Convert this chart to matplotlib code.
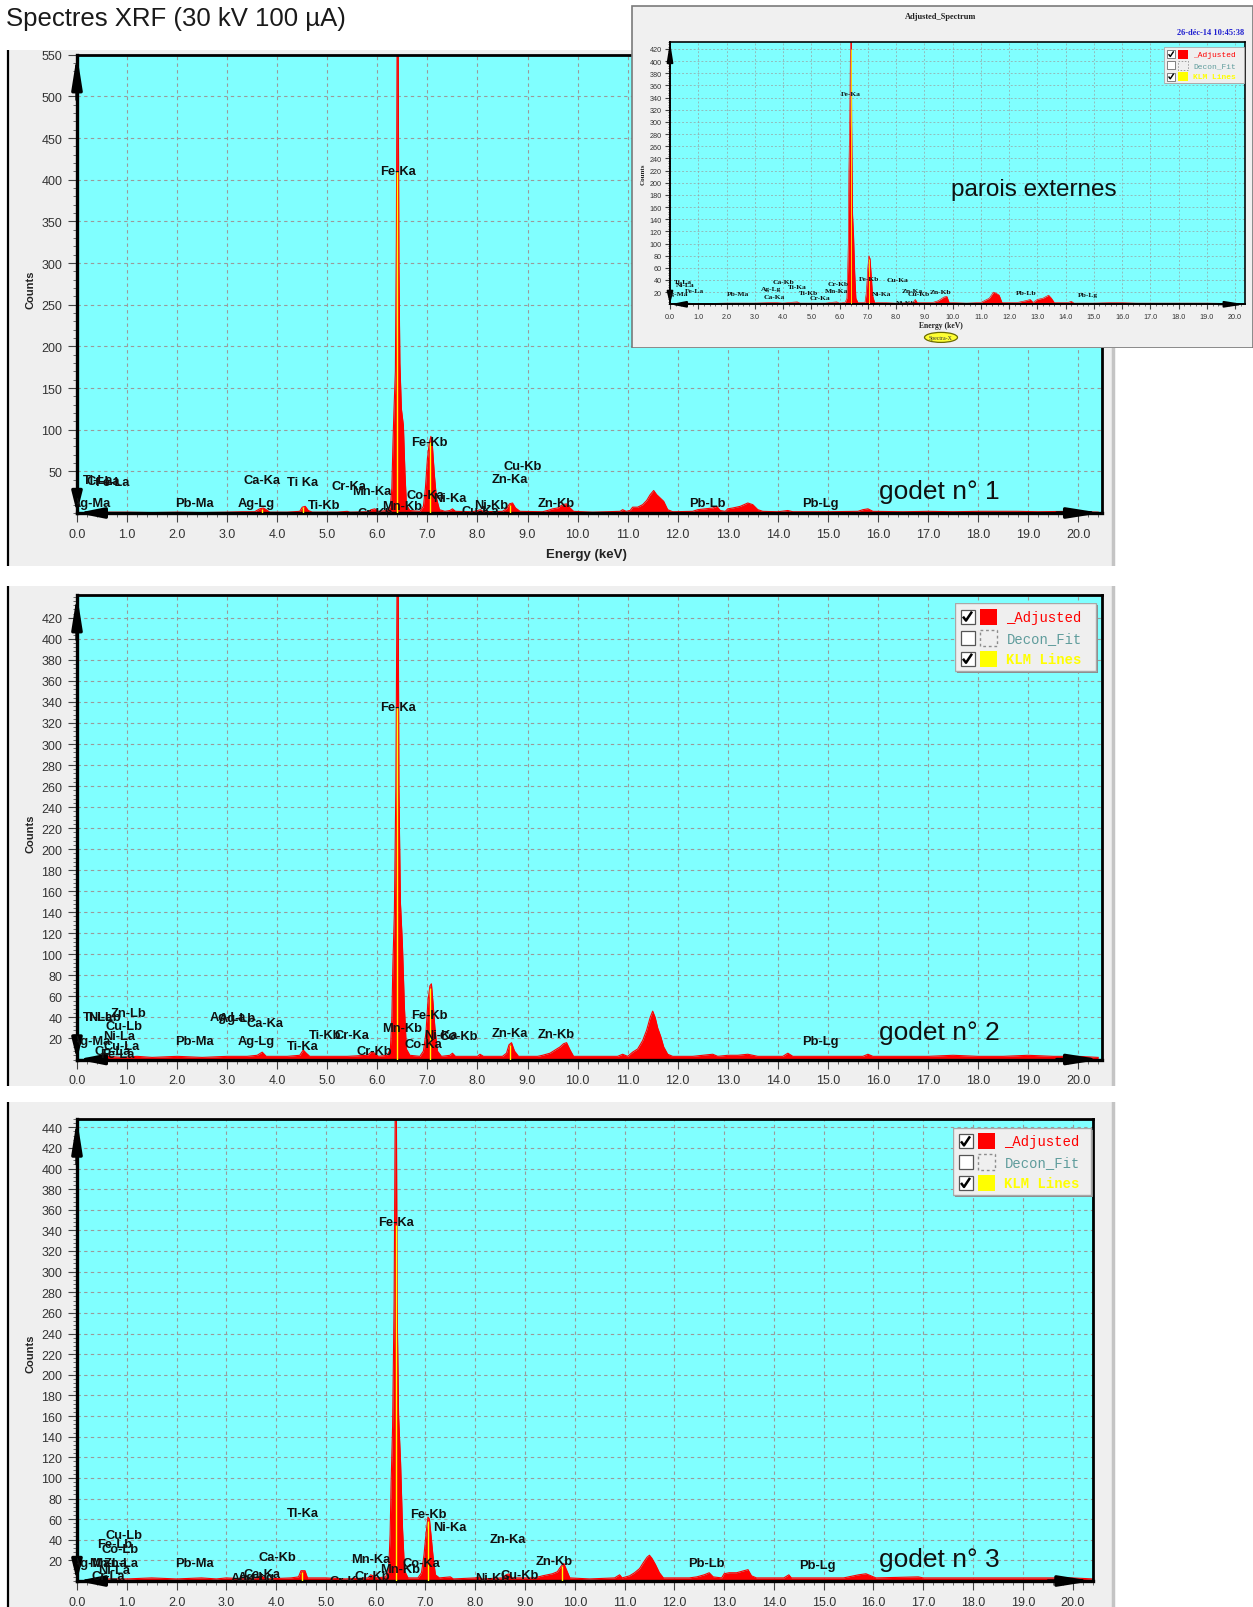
import numpy as np
import matplotlib
matplotlib.use("Agg")
import matplotlib.pyplot as plt
from matplotlib.patches import Rectangle, Ellipse
from matplotlib.ticker import MultipleLocator, FormatStrFormatter

plt.rcParams["font.family"] = ["Liberation Sans", "DejaVu Sans"]

W, H = 1253, 1608
CYAN = "#80ffff"
RED = "#ff0000"
YELLOW = "#ffff00"

# ---------------------------------------------------------------------------
# Spectra (energy keV / counts)
# ---------------------------------------------------------------------------

# godet n° 1
P1_E = [0.0, 0.5, 0.55, 1.0, 1.5, 2.0, 2.5, 3.0, 3.3, 3.55, 3.65, 3.72, 3.78, 3.85, 4.2, 4.45, 4.5, 4.56, 4.62, 4.7,
        5.2, 5.4, 5.45, 5.8, 5.88, 5.95, 6.02, 6.2, 6.26, 6.29, 6.31, 6.33, 6.36, 6.38, 6.395, 6.415, 6.43, 6.45,
        6.48, 6.52, 6.55, 6.58, 6.65, 6.85, 6.92, 6.96, 7.0, 7.04, 7.07, 7.1, 7.14, 7.18, 7.24, 7.35, 7.45, 7.5,
        7.56, 7.9, 8.0, 8.06, 8.12, 8.5, 8.58, 8.64, 8.7, 8.76, 8.85, 9.3, 9.4, 9.5, 9.6, 9.7, 9.78, 9.85, 9.92,
        10.3, 10.85, 10.9, 10.97, 11.05, 11.1, 11.2, 11.3, 11.38, 11.45, 11.52, 11.58, 11.65, 11.72, 11.8, 11.9,
        12.3, 12.4, 12.55, 12.7, 12.78, 12.85, 12.95, 13.0, 13.1, 13.25, 13.4, 13.5, 13.6, 13.7, 14.0, 14.2, 14.3,
        15.0, 15.6, 15.7, 15.8, 15.9, 16.5, 17.0, 17.5, 18.0, 18.8, 19.2, 19.8, 20.4]
P1_C = [0, 0, 1, 1, 0.5, 1, 0.5, 1, 1.5, 1.5, 5, 6, 4, 1, 1, 2, 7, 8, 3, 1,
        1, 2, 1, 1.5, 4, 5, 2, 3, 8, 30, 80, 120, 170, 330, 580, 580, 300, 180,
        125, 105, 50, 10, 3, 2, 8, 30, 65, 85, 92, 80, 45, 18, 4, 2, 3, 5,
        2, 1.5, 3, 4, 1.5, 2, 5, 11, 12, 6, 2, 1.5, 3, 5, 6, 10, 11, 6, 2,
        1, 2, 4, 2, 3, 7, 7, 10, 15, 22, 27, 22, 18, 14, 4, 1.5,
        2, 4, 5, 6, 8, 3, 2, 5, 6, 8, 12, 10, 4, 2, 1.5, 3, 1.5,
        1.5, 2, 4, 5, 2, 1.5, 2, 1.5, 2, 2, 1.5, 2, 1]

# godet n° 2
P2_E = [0.0, 0.5, 0.6, 0.9, 1.2, 1.5, 2.0, 2.5, 3.0, 3.4, 3.6, 3.7, 3.78, 4.2, 4.45, 4.52, 4.58, 4.65, 5.0, 5.4,
        5.8, 5.88, 5.95, 6.02, 6.2, 6.26, 6.29, 6.31, 6.34, 6.37, 6.395, 6.415, 6.43, 6.46, 6.5, 6.54, 6.58, 6.65,
        6.85, 6.92, 6.97, 7.01, 7.05, 7.08, 7.11, 7.15, 7.2, 7.28, 7.45, 7.5, 7.56, 8.0, 8.05, 8.12, 8.5, 8.58,
        8.63, 8.68, 8.74, 8.82, 9.2, 9.3, 9.45, 9.55, 9.65, 9.72, 9.78, 9.85, 9.92, 10.3, 10.8, 10.9, 11.0, 11.1,
        11.2, 11.3, 11.38, 11.45, 11.5, 11.55, 11.6, 11.66, 11.72, 11.8, 11.9, 12.3, 12.5, 12.7, 12.8, 13.0, 13.2,
        13.4, 13.6, 14.1, 14.2, 14.3, 15.0, 15.7, 15.8, 15.9, 16.5, 17.0, 17.5, 18.0, 18.5, 19.0, 19.5, 20.0, 20.4]
P2_C = [0, 0, 3, 2, 3, 2, 3, 2, 3, 3, 4, 7, 3, 3, 4, 9, 6, 3, 3, 3,
        4, 7, 6, 3, 4, 10, 40, 90, 140, 260, 470, 470, 260, 150, 110, 50, 10, 4,
        3, 8, 25, 55, 70, 72, 55, 30, 8, 3, 4, 6, 3, 3, 5, 3, 3, 6,
        14, 16, 8, 3, 3, 4, 6, 9, 12, 15, 16, 9, 3, 3, 3, 5, 3, 7,
        10, 18, 28, 40, 46, 40, 30, 22, 12, 5, 3, 3, 4, 5, 3, 4, 4,
        5, 3, 3, 6, 3, 3, 3, 5, 3, 3, 3, 4, 3, 3, 4, 3, 3, 2]

# godet n° 3
P3_E = [0.0, 0.5, 0.6, 1.0, 1.5, 2.0, 2.5, 2.8, 3.0, 3.4, 3.6, 3.7, 3.8, 4.3, 4.45, 4.5, 4.58, 4.63, 5.0, 5.4,
        5.85, 5.9, 5.95, 6.02, 6.2, 6.26, 6.29, 6.31, 6.34, 6.37, 6.395, 6.415, 6.43, 6.46, 6.5, 6.54, 6.58, 6.65,
        6.85, 6.92, 6.97, 7.01, 7.05, 7.08, 7.11, 7.15, 7.2, 7.28, 7.5, 7.56, 8.0, 8.06, 8.12, 8.55, 8.62, 8.68,
        8.74, 9.2, 9.35, 9.45, 9.55, 9.65, 9.72, 9.78, 9.84, 9.9, 10.3, 10.8, 10.9, 10.95, 11.1, 11.2, 11.3, 11.38,
        11.45, 11.5, 11.55, 11.62, 11.7, 11.78, 12.3, 12.45, 12.6, 12.7, 12.78, 12.95, 13.0, 13.1, 13.25, 13.4,
        13.48, 13.55, 13.65, 14.2, 14.3, 14.35, 15.0, 15.4, 15.6, 15.7, 15.85, 15.95, 16.05, 16.9, 17.0, 17.5,
        18.0, 18.5, 19.0, 19.5, 20.0, 20.4]
P3_C = [0, 0, 2, 2, 3, 2, 3, 2, 3, 2, 3, 5, 2, 3, 4, 10, 10, 3, 3, 2,
        3, 6, 5, 3, 4, 10, 45, 95, 150, 270, 480, 480, 270, 160, 115, 50, 10, 3,
        3, 8, 25, 45, 62, 60, 45, 25, 6, 3, 4, 2, 3, 4, 2, 3, 6, 7,
        3, 3, 5, 6, 7, 9, 14, 17, 10, 3, 2, 3, 6, 3, 5, 8, 12, 18,
        23, 25, 22, 16, 8, 3, 3, 4, 6, 8, 4, 3, 7, 8, 8, 10,
        11, 5, 3, 3, 6, 3, 3, 3, 5, 6, 7, 5, 3, 4, 3, 3,
        3, 3, 3, 3, 3, 2]

# parois externes (inset)
P0_E = [0.0, 0.5, 0.6, 1.0, 2.0, 3.0, 3.7, 4.0, 4.5, 4.6, 5.5, 5.9, 6.0, 6.2, 6.26, 6.29, 6.31, 6.33, 6.36, 6.38,
        6.395, 6.415, 6.43, 6.46, 6.5, 6.54, 6.58, 6.65, 6.9, 6.95, 7.0, 7.04, 7.08, 7.12, 7.17, 7.24, 7.5, 8.0,
        8.6, 8.68, 8.75, 9.3, 9.5, 9.7, 9.8, 9.88, 10.5, 11.0, 11.3, 11.45, 11.55, 11.65, 11.75, 12.3, 12.6, 12.75,
        12.85, 13.0, 13.2, 13.4, 13.5, 13.6, 14.1, 14.2, 14.3, 15.0, 15.8, 16.5, 17.0, 18.0, 19.0, 20.4]
P0_C = [0, 0, 2, 1, 2, 2, 3, 2, 4, 2, 2, 4, 2, 3, 10, 60, 100, 220, 300, 400,
        450, 450, 300, 150, 110, 50, 10, 3, 3, 20, 60, 80, 75, 50, 15, 3, 3, 2,
        3, 8, 3, 3, 6, 12, 13, 3, 2, 3, 10, 20, 18, 15, 3, 3, 6, 8,
        3, 8, 10, 15, 10, 3, 3, 5, 2, 2, 3, 2, 2, 2, 2, 1]

# KLM marker lines (yellow)
P1_KLM_E = [6.40, 7.06, 4.51, 3.69, 8.64]
P1_KLM_H = [410, 85, 7, 5, 10]
P2_KLM_E = [6.40, 7.06, 8.64]
P2_KLM_H = [335, 68, 14]
P3_KLM_E = [6.40, 7.06, 4.51, 9.75]
P3_KLM_H = [345, 58, 9, 15]
P0_KLM_E = [6.40, 7.06]
P0_KLM_H = [420, 75]

# Peak labels
P1_NAMES = ["Fe-Ka", "Fe-Kb", "Cu-Kb", "Zn-Ka", "Ca-Ka", "Ti Ka", "Cr-Ka", "Mn-Ka", "Co-Ka", "Ni-Ka", "Mn-Kb",
            "Cr-Kb", "Cu-Ka", "Ni-Kb", "Zn-Kb", "Ti-Kb", "Ag-Lg", "Pb-Ma", "Ag-Ma", "Ti-La", "Cr-La", "Fe-La",
            "Pb-Lb", "Pb-Lg"]
P1_LX = [6.41, 7.03, 8.91, 8.64, 3.69, 4.51, 5.43, 5.88, 6.95, 7.45, 6.49,
         5.95, 8.05, 8.28, 9.57, 4.94, 3.58, 2.35, 0.28, 0.42, 0.52, 0.70,
         12.6, 14.85]
P1_LY = [410, 85, 57, 41, 40, 37, 33, 26, 22, 18, 9,
         0, 2, 10, 12.6, 10, 12.6, 12.6, 12.6, 40, 39, 37,
         12.6, 12.6]

P2_NAMES = ["Fe-Ka", "Fe-Kb", "Mn-Kb", "Co-Ka", "Ni-Ka", "Co-Kb", "Zn-Ka", "Zn-Kb", "Pb-Lg", "Cr-Kb", "Ti-Kb",
            "Cr-Ka", "Ti-Ka", "Ag-Lg", "Ag-La", "Ag-Lb", "Ca-Ka", "Pb-Ma", "Ti-La", "Ni-Lb", "Zn-Lb", "Cu-Lb",
            "Ni-La", "Ag-Ma", "Cu-La", "Co-La", "Fe-La"]
P2_LX = [6.41, 7.03, 6.49, 6.92, 7.27, 7.62, 8.64, 9.57, 14.85, 5.94, 4.96,
         5.49, 4.51, 3.58, 3.01, 3.21, 3.75, 2.35, 0.42, 0.55, 1.02, 0.94,
         0.84, 0.28, 0.9, 0.72, 0.8]
P2_LY = [335, 42, 29.5, 15, 23.6, 22.6, 25.6, 24.6, 17.8, 8, 23.6,
         23.6, 13, 17.8, 40, 39, 34.3, 17.8, 40, 40, 44, 32,
         22.6, 17.8, 13, 8, 5]

P3_NAMES = ["Fe-Ka", "Tl-Ka", "Fe-Kb", "Ni-Ka", "Zn-Ka", "Zn-Kb", "Cu-Kb", "Ni-Kb", "Co-Ka", "Mn-Ka", "Mn-Kb",
            "Cr-Kb", "Cr-Ka", "Ca-Kb", "Ca-Ka", "Ag-Lg", "Ag-Lb", "Pb-Ma", "Pb-Lb", "Pb-Lg", "Cu-Lb", "Fe-Lb",
            "Co-Lb", "Ag-Ma", "Mn-La", "Zn-La", "Ni-La", "Cr-La"]
P3_LX = [6.41, 4.53, 7.06, 7.48, 8.65, 9.58, 8.9, 8.34, 6.92, 5.91, 6.49,
         5.93, 5.42, 4.02, 3.71, 3.6, 3.45, 2.35, 12.65, 14.87, 0.95, 0.76,
         0.86, 0.28, 0.62, 0.88, 0.75, 0.62]
P3_LY = [348, 66, 64.5, 52.5, 40.5, 19.7, 5.8, 2.8, 17.7, 21.7, 11.7,
         4.8, 0, 23.7, 6.8, 3.9, 3, 17.7, 17.7, 15.7, 44.6, 35.6,
         30.8, 17.7, 17, 17, 11, 5]

P0_NAMES = ["Fe-Ka", "Fe-Kb", "Ni-Ka", "Cu-Ka", "Ca-Kb", "Ag-Lg", "Ti-Ka", "Ti-Kb", "Ca-Ka", "Cr-Ka", "Cr-Kb",
            "Mn-Ka", "Pb-Ma", "Zn-Ka", "Cu-Kb", "Zn-Kb", "Pb-Lb", "Pb-Lg", "Ni-Kb", "Ti-La", "Ni-La", "Fe-La",
            "Ag-Ma"]
P0_LX = [6.41, 7.04, 7.49, 8.05, 4.02, 3.57, 4.5, 4.91, 3.69, 5.32, 5.95,
         5.88, 2.4, 8.58, 8.81, 9.58, 12.61, 14.79, 8.33, 0.45, 0.55, 0.85,
         0.25]
P0_LY = [346, 42.7, 17.5, 41.6, 38, 26, 28.5, 19.7, 12.6, 10.4, 33.4,
         23.5, 17.5, 23.5, 17, 20.7, 19.8, 16.5, 3, 38, 33, 22,
         17]

LEGEND_NAMES = ["_Adjusted", "Decon_Fit", "KLM Lines"]
LEGEND_COLORS = ["#ff0000", "#5f9c9c", "#ffff00"]
LEGEND_CHECKED = [True, False, True]

# ---------------------------------------------------------------------------
# helpers (positions in screenshot pixels, y downwards)
# ---------------------------------------------------------------------------

fig = plt.figure(figsize=(W / 100, H / 100), dpi=100)


def frac(x0, y0, x1, y1):
    return [x0 / W, 1 - y1 / H, (x1 - x0) / W, (y1 - y0) / H]


def pixel_axes(x0, y0, x1, y1, z):
    a = fig.add_axes(frac(x0, y0, x1, y1), zorder=z)
    a.set_xlim(x0, x1)
    a.set_ylim(y1, y0)
    a.axis("off")
    return a


def arrow(ax, tip, tail, s, hl=1.9):
    ax.annotate("", xy=tip, xytext=tail, xycoords="axes fraction",
                arrowprops=dict(arrowstyle=f"-|>,head_length={hl},head_width=0.3", color="k",
                                lw=2.4 * s, shrinkA=0, shrinkB=0, mutation_scale=10 * s),
                annotation_clip=False)


def spectrum(box, xmax, ymax, ystep, ytop, yminor, E, C, klm_e, klm_h, names, lx, ly, z,
             s=1.0, label_font="Liberation Sans"):
    x0, y0, x1, y1 = box
    ax = fig.add_axes(frac(*box), zorder=z)
    ax.set_facecolor(CYAN)
    ax.fill_between(E, C, 0, color=RED, lw=0, zorder=2)
    ax.plot(E, C, color=RED, lw=0.8 * s, zorder=2)
    ax.vlines(klm_e, 0, klm_h, color=YELLOW, lw=1.0 * s, zorder=3)
    ax.set_xlim(0, xmax)
    ax.set_ylim(0, ymax)
    ax.set_xticks(np.arange(0, 21, 1))
    ax.xaxis.set_minor_locator(MultipleLocator(0.2))
    ax.xaxis.set_major_formatter(FormatStrFormatter("%.1f"))
    ax.set_yticks(np.arange(ystep, ytop + 1, ystep))
    ax.yaxis.set_minor_locator(MultipleLocator(yminor))
    ax.tick_params(which="major", direction="out", length=6.5 * s, width=0.8, color="#444",
                   labelsize=9 * s, labelcolor="#333", pad=4 * s)
    ax.tick_params(which="minor", direction="out", length=3 * s, width=0.6, color="#555")
    ax.grid(True, which="major", color="#9a9a9a", ls=(0, (3, 3)), lw=0.8 * s)
    ax.set_axisbelow(True)
    for side in ["bottom", "left"]:
        ax.spines[side].set_linewidth(2.4 * s)
    for side in ["top", "right"]:
        ax.spines[side].set_linewidth(2.0 * s)
    for t, x, y in zip(names, lx, ly):
        ax.text(x, y, t, ha="center", va="center", fontsize=9.3 * s, fontweight="bold",
                family=label_font, color="#111", clip_on=True, zorder=5)
    wpx, hpx = x1 - x0, y1 - y0
    arrow(ax, (0, 1), (0, 1 - 45 * s / hpx), s)
    arrow(ax, (1, 0), (1 - 45 * s / wpx, 0), s)
    arrow(ax, (0, 0), (30 * s / wpx, 0), s, hl=1.5)
    arrow(ax, (0, 0), (0, 22 * s / hpx), s, hl=1.2)
    return ax


def legend(x0, y0, x1, y1, z, s=1.0):
    a = pixel_axes(0, 0, x1 - x0, y1 - y0, z)
    a.set_position(frac(x0, y0, x1 + 2 * s, y1 + 2 * s))
    a.set_xlim(0, x1 - x0 + 2 * s)
    a.set_ylim(y1 - y0 + 2 * s, 0)
    w, h = x1 - x0, y1 - y0
    a.add_patch(Rectangle((2 * s, 2 * s), w, h, fc="#8a8a8a", ec="none"))
    a.add_patch(Rectangle((0, 0), w, h, fc="#efefef", ec="#a8a8a8", lw=1.0 * s))
    for i, (name, col, chk) in enumerate(zip(LEGEND_NAMES, LEGEND_COLORS, LEGEND_CHECKED)):
        yc = h * (0.2 + 0.31 * i)
        a.add_patch(Rectangle((5.5 * s, yc - 7 * s), 14 * s, 14 * s, fc="white", ec="#555", lw=0.9 * s))
        if chk:
            a.plot([8 * s, 11 * s, 17 * s], [yc, yc + 4 * s, yc - 5 * s], color="k", lw=1.8 * s,
                   solid_capstyle="butt")
        if i == 1:
            a.add_patch(Rectangle((25 * s, yc - 8 * s), 17 * s, 16 * s, fc="none", ec="#8c8c8c",
                                  lw=1.0 * s, ls=(0, (2, 2))))
        else:
            a.add_patch(Rectangle((25 * s, yc - 8 * s), 17 * s, 16 * s, fc=col, ec="none"))
        a.text(51.5 * s, yc, name, ha="left", va="center", color=col, fontsize=10 * s,
               family="Liberation Mono", fontweight="bold" if i == 2 else "normal")
    return a


# ---------------------------------------------------------------------------
# windows
# ---------------------------------------------------------------------------

for wy0, wy1 in [(51, 567), (587, 1087), (1103, 1608)]:
    bg = pixel_axes(0, wy0, 1120, wy1, 0)
    bg.add_patch(Rectangle((7, wy0), 1107, wy1 - wy0, fc="#efefef", ec="none"))
    bg.plot([7.5, 7.5], [wy0, wy1], color="k", lw=1.6)
    bg.plot([1112.5, 1112.5], [wy0, wy1], color="#c4c4c4", lw=2.5)

spectrum((77, 55.7, 1101.7, 514), 20.47, 550, 50, 550, 10, P1_E, P1_C, P1_KLM_E, P1_KLM_H,
         P1_NAMES, P1_LX, P1_LY, 1)
spectrum((77, 595.7, 1101.7, 1060.5), 20.47, 442, 20, 420, 4, P2_E, P2_C, P2_KLM_E, P2_KLM_H,
         P2_NAMES, P2_LX, P2_LY, 1)
spectrum((77, 1120, 1093, 1582), 20.41, 448, 20, 440, 4, P3_E, P3_C, P3_KLM_E, P3_KLM_H,
         P3_NAMES, P3_LX, P3_LY, 1)

legend(955, 604, 1096, 672, 3)
legend(953, 1129, 1091, 1196, 3)

# inset window (parois externes)
ibg = pixel_axes(631, 6, 1253, 349, 5)
ibg.add_patch(Rectangle((631.5, 6.5), 621, 342, fc="#f0f0f0", ec="#7a7a7a", lw=1.2))
spectrum((670, 42.7, 1245, 305.3), 20.35, 432, 20, 420, 4, P0_E, P0_C, P0_KLM_E, P0_KLM_H,
         P0_NAMES, P0_LX, P0_LY, 6, s=0.58, label_font="Liberation Serif")
legend(1164, 48, 1244, 84, 7, s=0.57)

# ---------------------------------------------------------------------------
# texts
# ---------------------------------------------------------------------------

ov = pixel_axes(0, 0, W, H, 20)
ov.text(6, 19, "Spectres XRF (30 kV 100 µA)", ha="left", va="center", fontsize=18.5, color="#1a1a1a")
for yy, t in [(492, "godet n° 1"), (1032.6, "godet n° 2"), (1559.6, "godet n° 3")]:
    ov.text(879, yy, t, ha="left", va="center", fontsize=19, color="#111")
ov.text(1033.6, 189.7, "parois externes", ha="center", va="center", fontsize=17.5, color="#111")
for yy in [290, 834, 1354]:
    ov.text(30, yy, "Counts", rotation=90, ha="center", va="center", fontsize=8, fontweight="bold", color="#222")
ov.text(586.5, 555, "Energy (keV)", ha="center", va="center", fontsize=9.5, fontweight="bold", color="#222")

ov.text(941, 17.4, "Adjusted_Spectrum", ha="center", va="center", fontsize=6, fontweight="bold",
        family="Liberation Serif", color="#222")
ov.text(1244, 32.8, "26-déc-14 10:45:38", ha="right", va="center", fontsize=6, fontweight="bold",
        family="Liberation Serif", color="#2020d0")
ov.text(643, 174, "Counts", rotation=90, ha="center", va="center", fontsize=5, fontweight="bold",
        family="Liberation Serif", color="#222")
ov.text(941, 326, "Energy (keV)", ha="center", va="center", fontsize=5.5, fontweight="bold",
        family="Liberation Serif", color="#222")
ov.add_patch(Ellipse((941, 338.4), 33, 10, fc="#ffff33", ec="#6b6b00", lw=0.9))
ov.text(941, 338.6, "Spectra-X", ha="center", va="center", fontsize=4.2, family="Liberation Serif", color="#333")

fig.savefig("out.png", dpi=100)
